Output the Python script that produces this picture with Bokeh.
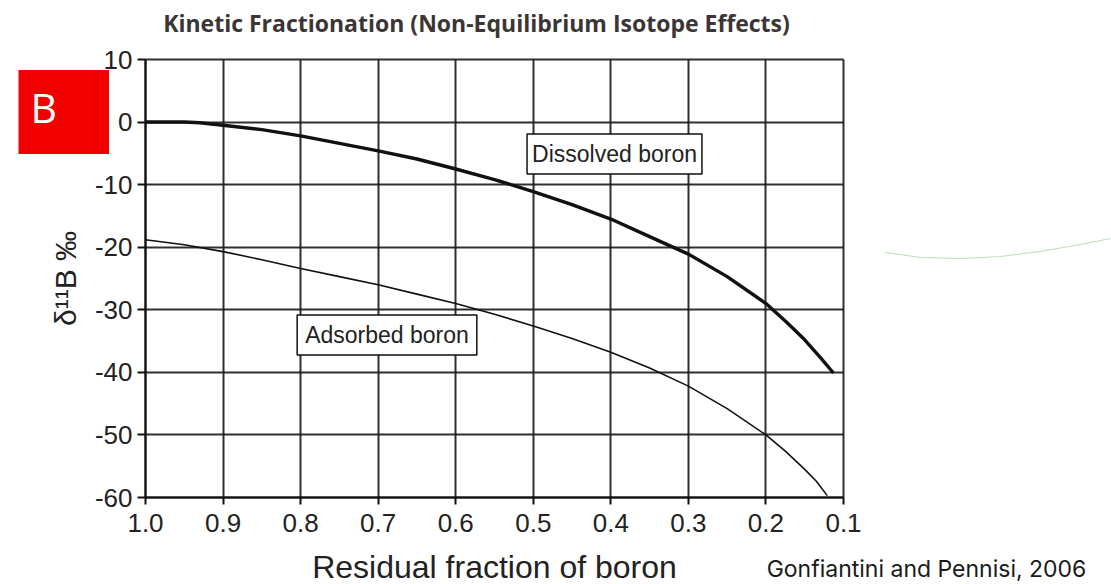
import math
from bokeh.plotting import figure
from bokeh.models import (Range1d, FixedTicker, Label, PolyAnnotation,
                          CustomJSTickFormatter, Grid)
from bokeh.embed import file_html
from bokeh.resources import INLINE

# ---- data ----
dissolved_f = [1.0, 0.95, 0.93, 0.9, 0.85, 0.8, 0.75, 0.7, 0.65, 0.6, 0.55, 0.5,
               0.45, 0.4, 0.35, 0.3, 0.25, 0.2, 0.175, 0.15, 0.13, 0.113]
dissolved_d = [0.0, 0.0, -0.1, -0.5, -1.2, -2.2, -3.4, -4.6, -5.9, -7.5, -9.2, -11.1,
               -13.2, -15.5, -18.3, -21.1, -24.7, -29.0, -31.8, -34.8, -37.6, -40.1]

adsorbed_f = [1.0, 0.95, 0.9, 0.85, 0.8, 0.75, 0.7, 0.65, 0.6, 0.55, 0.5,
              0.45, 0.4, 0.35, 0.3, 0.25, 0.2, 0.175, 0.15, 0.135, 0.121]
adsorbed_d = [-18.8, -19.6, -20.7, -22.0, -23.4, -24.7, -26.0, -27.5, -29.0, -30.7, -32.6,
              -34.6, -36.8, -39.3, -42.2, -45.8, -50.0, -52.6, -55.5, -57.4, -59.7]

x_ticks = [1.0, 0.9, 0.8, 0.7, 0.6, 0.5, 0.4, 0.3, 0.2, 0.1]
y_ticks = [10, 0, -10, -20, -30, -40, -50, -60]

title_text = "Kinetic Fractionation (Non-Equilibrium Isotope Effects)"
x_label = "Residual fraction of boron"
y_label = "\u03b4\u00b9\u00b9B \u2030"
credit = "Gonfiantini and Pennisi, 2006"

X_MAX, X_MIN = x_ticks[0], x_ticks[-1]
Y_MAX, Y_MIN = y_ticks[0], y_ticks[-1]

# ---- layout helpers (canvas pixels -> data units, for placement only) ----
FL, FR, FT, FB = 145, 843, 59, 497
W, H = 1111, 584
def fx(px):
    return X_MAX - (px - FL) * (X_MAX - X_MIN) / (FR - FL)
def fy(py):
    return Y_MAX - (py - FT) * (Y_MAX - Y_MIN) / (FB - FT)

p = figure(width=W, height=H, output_backend="svg", toolbar_location=None,
           x_range=Range1d(fx(0), fx(W)), y_range=Range1d(fy(H), fy(0)),
           min_border=0, min_border_left=0, min_border_right=0,
           min_border_top=0, min_border_bottom=0)
p.background_fill_color = "white"
p.border_fill_color = "white"
p.outline_line_color = None

for ax in (p.xaxis[0], p.yaxis[0]):
    ax.axis_line_color = "#111111"
    ax.axis_line_width = 2
    ax.major_tick_line_color = "#111111"
    ax.major_tick_line_width = 2
    ax.major_tick_in = 0
    ax.minor_tick_line_color = None
    ax.major_label_text_font = "Liberation Sans"
    ax.major_label_text_font_size = "26px"
    ax.major_label_text_color = "#222222"
    ax.axis_label_text_font = "Liberation Sans"
    ax.axis_label_text_font_style = "normal"
    ax.axis_label_text_color = "#222222"

p.xaxis.fixed_location = Y_MIN
p.xaxis.bounds = (X_MIN, X_MAX)
p.yaxis.fixed_location = X_MAX
p.yaxis.bounds = (Y_MIN, Y_MAX)

p.xaxis.ticker = FixedTicker(ticks=x_ticks)
p.yaxis.ticker = FixedTicker(ticks=y_ticks)
p.xaxis.formatter = CustomJSTickFormatter(code="return tick.toFixed(1);")
p.yaxis.formatter = CustomJSTickFormatter(code="return tick.toFixed(0);")
p.xaxis.major_label_standoff = 9
p.yaxis.major_label_standoff = 5
p.xaxis.major_tick_out = 7
p.yaxis.major_tick_out = 8

p.xaxis.axis_label = x_label
p.xaxis.axis_label_text_font_size = "32px"
p.xaxis.axis_label_standoff = 14
p.yaxis.axis_label = y_label
p.yaxis.axis_label_text_font_size = "30px"
p.yaxis.axis_label_standoff = 10

p.xgrid.ticker = FixedTicker(ticks=x_ticks)
p.ygrid.ticker = FixedTicker(ticks=y_ticks)
p.grid.grid_line_color = "#1a1a1a"
p.grid.grid_line_width = 2
p.grid.grid_line_alpha = 0.9
if "cross_bounds" in Grid.properties():
    p.xgrid.bounds = (X_MIN, X_MAX)
    p.xgrid.cross_bounds = (Y_MIN, Y_MAX)
    p.ygrid.bounds = (Y_MIN, Y_MAX)
    p.ygrid.cross_bounds = (X_MIN, X_MAX)
else:
    p.grid.visible = False
    p.segment(x0=x_ticks, x1=x_ticks, y0=[Y_MIN] * len(x_ticks), y1=[Y_MAX] * len(x_ticks),
              line_color="#1a1a1a", line_width=2, line_alpha=0.9)
    p.segment(x0=[X_MIN] * len(y_ticks), x1=[X_MAX] * len(y_ticks), y0=y_ticks, y1=y_ticks,
              line_color="#1a1a1a", line_width=2, line_alpha=0.9)

p.line(adsorbed_f, adsorbed_d, line_color="#111111", line_width=1.6, line_join="round")
p.line(dissolved_f, dissolved_d, line_color="#111111", line_width=3.4, line_join="round")

# curve labels
for txt, cx, cy, hp in (("Dissolved boron", 614, 153.5, 5), ("Adsorbed boron", 386.5, 334.5, 8)):
    p.add_layout(Label(x=fx(cx), y=fy(cy), text=txt, text_align="center",
                       text_baseline="middle", text_font="Liberation Sans",
                       text_font_size="23px", text_color="#222222",
                       background_fill_color="white", border_line_color="#111111",
                       border_line_width=1.5,
                       padding={"left": hp, "right": hp, "top": 7, "bottom": 7}))

# title
p.add_layout(Label(x=fx(476), y=fy(22), text=title_text, text_align="center",
                   text_baseline="middle", text_font="Open Sans", text_font_style="bold",
                   text_font_size="23px", text_color="#3b3535"))
# credit
p.add_layout(Label(x=fx(926), y=fy(568), text=credit, text_align="center",
                   text_baseline="middle", text_font="Inter",
                   text_font_size="23px", text_color="#1a1a1a"))
# panel letter
p.add_layout(Label(x=fx(18), y=fy(111.5), text="B", text_align="left",
                   text_baseline="middle", text_font="Open Sans",
                   text_font_size="41px", text_color="white",
                   background_fill_color="#f20000",
                   padding={"left": 12, "right": 52, "top": 9, "bottom": 19}))

# faint green stroke at right
gx = [885, 920, 960, 1000, 1040, 1080, 1110]
gy = [252, 257, 258, 256, 251, 244, 238]
xs = [fx(v) for v in gx] + [fx(v) for v in reversed(gx)]
ys = [fy(v) for v in gy] + [fy(v) for v in reversed(gy)]
p.add_layout(PolyAnnotation(xs=xs, ys=ys, fill_alpha=0, line_color="#a9d0a6",
                            line_width=1.1, line_alpha=0.75))

open("out.html", "w").write(file_html(p, INLINE))
